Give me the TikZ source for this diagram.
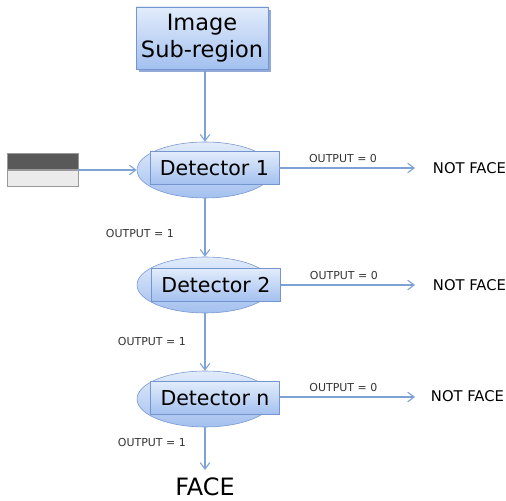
\documentclass[tikz,border=0pt]{standalone}
\usepackage{fontspec}
\setmainfont{DejaVu Sans}
\usepackage{tikz}
\usetikzlibrary{arrows.meta}
\usetikzlibrary{shadows}
\usetikzlibrary{positioning}
\usetikzlibrary{shapes}

\definecolor{edgeblue}{HTML}{7FA2D6}
\definecolor{boxline}{HTML}{7595CF}
\definecolor{boxtop}{HTML}{E2ECFB}
\definecolor{boxbot}{HTML}{A3C0EF}

\begin{document}
\begin{tikzpicture}
    \useasboundingbox (0,0) rectangle (12.65,12.5);
    \tikzset{
      flow/.style={draw=edgeblue,thick,-{Straight Barb[length=1.6mm,width=2.4mm]}},
      detbox/.style={rectangle,draw=boxline,top color=boxtop,bottom color=boxbot,
        minimum width=3.225cm,minimum height=0.825cm,inner sep=0pt,font=\fontsize{14.6}{17}\selectfont},
      detoval/.style={ellipse,draw=boxline,top color=boxtop,bottom color=boxbot,
        minimum width=3.4cm,minimum height=1.4cm},
      outlbl/.style={font=\fontsize{7.8}{9}\selectfont,text=black!80},
      result/.style={font=\fontsize{10.5}{12}\selectfont,anchor=west}
    }
    % image sub-region
    \node[rectangle,draw=boxline,top color=boxtop,bottom color=boxbot,
      drop shadow={shadow xshift=2pt,shadow yshift=-2pt,fill=boxline,opacity=0.8},
      minimum width=3.3cm,minimum height=1.55cm,align=center,
      font=\fontsize{16}{19}\selectfont] (img) at (5.05,11.55) {Image\\Sub-region};
    % detectors
    \node[detoval] (e1) at (5.125,8.25) {};
    \node[detbox] (d1) at (5.36,8.3) {Detector 1};
    \node[detoval] (e2) at (5.125,5.375) {};
    \node[detbox] (d2) at (5.4,5.375) {Detector 2};
    \node[detoval] (en) at (5.125,2.525) {};
    \node[detbox] (dn) at (5.375,2.55) {Detector n};
    % input block
    \node[rectangle,draw=gray!80,fill=black!65,minimum width=1.775cm,minimum height=0.4cm,
      inner sep=0pt,anchor=south west] (top) at (0.175,8.25) {};
    \node[rectangle,draw=gray!80,fill=black!8,minimum width=1.775cm,minimum height=0.4cm,
      inner sep=0pt,anchor=north west] (bot) at (0.175,8.25) {};
    \coordinate (mid) at (1.95,8.25);
    % results
    \node[result] (nf1) at (10.7,8.3) {NOT FACE};
    \node[result] (nf2) at (10.7,5.375) {NOT FACE};
    \node[result] (nfn) at (10.65,2.6) {NOT FACE};
    \node[font=\fontsize{17}{20}\selectfont,inner sep=0pt,anchor=base] (face) at (5.125,0.12) {FACE};
    \coordinate (o1) at (10.375,8.3);
    \coordinate (o2) at (10.375,5.375);
    \coordinate (on) at (10.375,2.575);
    \coordinate (fend) at (5.125,0.75);

    \draw[flow] (img.south -| e1.north) -- (e1.north);
    \draw[flow] (mid) -- (e1.west);
    \draw[flow] (e1.south) -- node[outlbl,left=6.5mm,pos=0.6] {OUTPUT = 1} (e2.north);
    \draw[flow] (e2.south) -- node[outlbl,left=3.5mm,pos=0.5] {OUTPUT = 1} (en.north);
    \draw[flow] (en.south) -- node[outlbl,left=3.5mm,pos=0.35] {OUTPUT = 1} (fend);
    \draw[flow] (d1.east) -- node[outlbl,above,pos=0.47] {OUTPUT = 0} (o1);
    \draw[flow] (d2.east |- o2) -- node[outlbl,above,pos=0.47] {OUTPUT = 0} (o2);
    \draw[flow] (dn.east |- on) -- node[outlbl,above,pos=0.47] {OUTPUT = 0} (on);
\end{tikzpicture}
\end{document}
